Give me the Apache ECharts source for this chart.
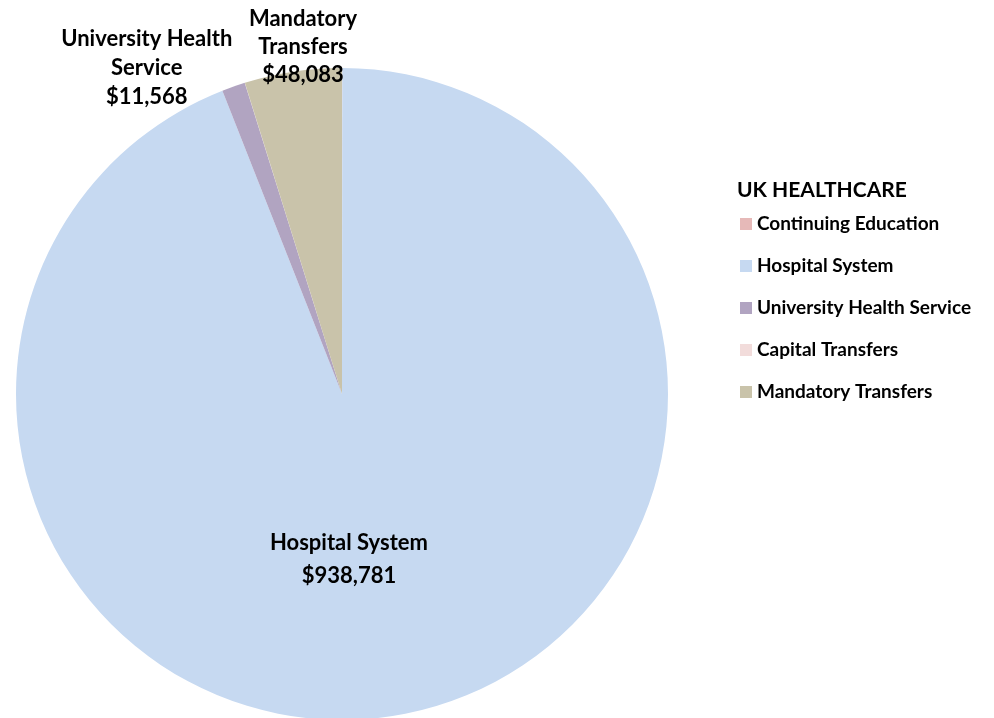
<!DOCTYPE html>
<html>
<head>
<meta charset="utf-8">
<script src="https://cdn.jsdelivr.net/npm/echarts@6/dist/echarts.min.js"></script>
<style>html,body{margin:0;padding:0;background:#fff}#c{width:994px;height:718px}</style>
</head>
<body>
<div id="c"></div>
<script>
const categories = ['Continuing Education', 'Hospital System', 'University Health Service', 'Capital Transfers', 'Mandatory Transfers'];
const values = [150, 938781, 11568, 60, 48083];
const labelNames = ['Continuing Education', 'Hospital System', 'University Health\nService', 'Capital Transfers', 'Mandatory\nTransfers'];
const showLabel = [false, true, true, false, true];
const colors = ['#e6b9b8', '#c6d9f1', '#b1a4c1', '#f2dcdb', '#c9c3aa'];
const labelOffsets = [[0, 0], [-24, 2], [-140, -170], [0, 0], [-14, -183]];
const labelLineHeights = [29, 33, 29, 29, 28];

const font = 'Lato, "Open Sans", sans-serif';
const fmt = v => '$' + v.toLocaleString('en-US');

const chart = echarts.init(document.getElementById('c'));
chart.setOption({
  animation: false,
  color: colors,
  title: {
    text: 'UK HEALTHCARE',
    left: 732, top: 175,
    textStyle: { fontFamily: font, fontWeight: 'bold', fontSize: 21, color: '#000' }
  },
  legend: {
    orient: 'vertical',
    left: 735, top: 208,
    icon: 'rect', itemWidth: 12, itemHeight: 12, itemGap: 20,
    textStyle: { fontFamily: font, fontWeight: 'bold', fontSize: 19, color: '#000', lineHeight: 22 },
    data: categories
  },
  series: [{
    type: 'pie',
    center: [342, 394],
    radius: 326,
    startAngle: 90,
    clockwise: true,
    avoidLabelOverlap: false,
    labelLine: { show: false },
    data: categories.map((n, i) => ({
      name: n,
      value: values[i],
      label: {
        show: showLabel[i],
        position: 'inside',
        offset: labelOffsets[i],
        formatter: labelNames[i] + '\n' + fmt(values[i]),
        fontFamily: font, fontWeight: 'bold', fontSize: 22, lineHeight: labelLineHeights[i], color: '#000', align: 'center'
      }
    })),
    emphasis: { disabled: true }
  }]
});
</script>
</body>
</html>
